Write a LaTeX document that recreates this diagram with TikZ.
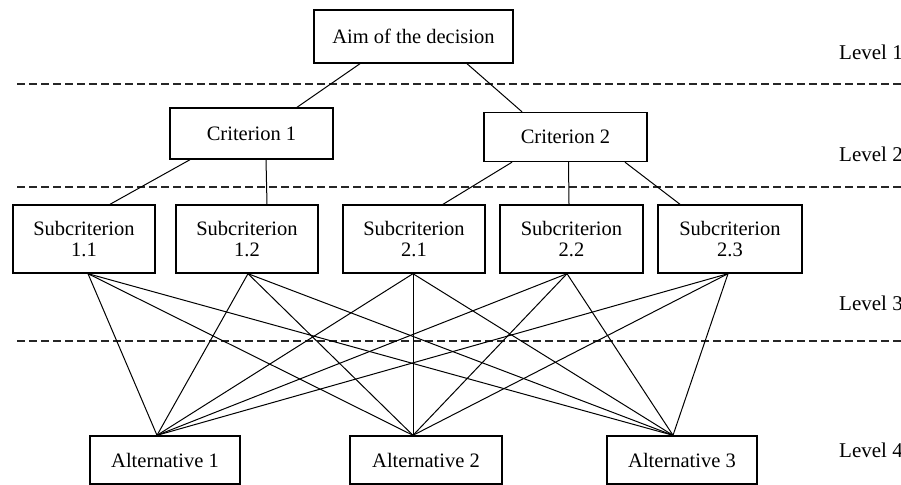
\documentclass[tikz,border=0pt]{standalone}
\usepackage{fontspec}
\setmainfont{Liberation Serif}
\begin{document}
\begin{tikzpicture}[x=1pt,y=-1pt,
  box/.style={draw=black,line width=1.4pt,fill=white,inner sep=0pt,align=center,
    font=\fontsize{20.5}{21}\selectfont},
  conn/.style={draw=black,line width=1pt},
  sep/.style={draw=black!85,line width=1.6pt,dash pattern=on 8pt off 4pt},
  lvl/.style={anchor=west,inner sep=0pt,font=\fontsize{21}{22}\selectfont}]
\useasboundingbox (0,0) rectangle (901,484);
\clip (0,0) rectangle (901,484);
\fill[white] (0,0) rectangle (901,484);

% separators
\coordinate (s1a) at (17,84);  \coordinate (s1b) at (901,84);
\coordinate (s2a) at (17,187); \coordinate (s2b) at (901,187);
\coordinate (s3a) at (17,341); \coordinate (s3b) at (901,341);
\draw[sep] (s1a) -- (s1b);
\draw[sep] (s2a) -- (s2b);
\draw[sep] (s3a) -- (s3b);

% level labels
\node[lvl] (l1) at (839,52) {Level 1};
\node[lvl] (l2) at (839,154) {Level 2};
\node[lvl] (l3) at (839,303) {Level 3};
\node[lvl] (l4) at (839,450) {Level 4};

% nodes
\node[box,minimum width=199pt,minimum height=53pt] (aim) at (413.5,36.5) {Aim of the decision};
\node[box,minimum width=163pt,minimum height=51pt] (c1) at (251.5,133.5) {Criterion 1};
\node[box,minimum width=163pt,minimum height=49pt] (c2) at (565.5,137) {Criterion 2};

\node[box,minimum width=142pt,minimum height=68pt] (s11) at (84,239) {Subcriterion\\1.1};
\node[box,minimum width=142pt,minimum height=68pt] (s12) at (247,239) {Subcriterion\\1.2};
\node[box,minimum width=142pt,minimum height=68pt] (s21) at (414,239) {Subcriterion\\2.1};
\node[box,minimum width=143pt,minimum height=68pt] (s22) at (571.5,239) {Subcriterion\\2.2};
\node[box,minimum width=144pt,minimum height=68pt] (s23) at (730,239) {Subcriterion\\2.3};

\node[box,minimum width=150pt,minimum height=48pt] (a1) at (165,460) {Alternative 1};
\node[box,minimum width=152pt,minimum height=48pt] (a2) at (426,460) {Alternative 2};
\node[box,minimum width=150pt,minimum height=48pt] (a3) at (682,460) {Alternative 3};

% level 1 -> 2
\draw[conn] ([xshift=-53.5pt]aim.south) -- ([xshift=45.5pt]c1.north);
\draw[conn] ([xshift=53.5pt]aim.south) -- ([xshift=-43.5pt]c2.north);

% level 2 -> 3
\draw[conn] ([xshift=-61.5pt]c1.south) -- ([xshift=26pt]s11.north);
\draw[conn] ([xshift=14.5pt]c1.south) -- ([xshift=20pt]s12.north);
\draw[conn] ([xshift=-53.5pt]c2.south) -- ([xshift=29pt]s21.north);
\draw[conn] ([xshift=3pt]c2.south) -- ([xshift=-2.5pt]s22.north);
\draw[conn] ([xshift=59.5pt]c2.south) -- ([xshift=-50pt]s23.north);

% subcriteria -> alternatives
\coordinate (b11) at ([xshift=4pt]s11.south);
\coordinate (b12) at ([xshift=1pt]s12.south);
\coordinate (b21) at ([xshift=-1pt]s21.south);
\coordinate (b22) at ([xshift=-4.5pt]s22.south);
\coordinate (b23) at ([xshift=-2pt]s23.south);
\coordinate (t1) at ([xshift=-8pt]a1.north);
\coordinate (t2) at ([xshift=-13pt]a2.north);
\coordinate (t3) at ([xshift=-9pt]a3.north);
\foreach \s in {b11,b12,b21,b22,b23}{
  \foreach \t in {t1,t2,t3}{
    \draw[conn] (\s) -- (\t);
  }
}
\end{tikzpicture}
\end{document}
